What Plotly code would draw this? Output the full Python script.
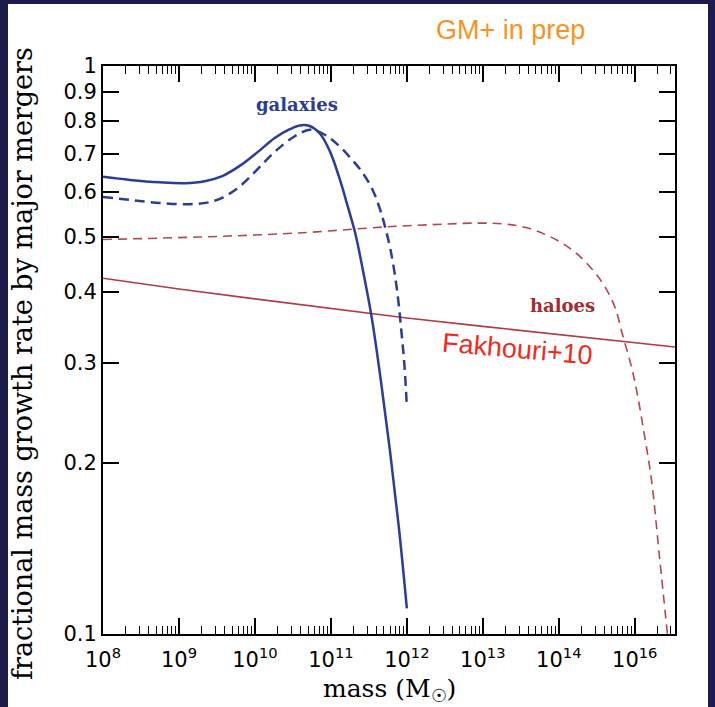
import plotly.graph_objects as go

# ---- data: fractional mass growth rate by major mergers vs. mass ----
# galaxies, solid model (log10 mass, fraction)
gal_solid_logm = [8.0, 8.355, 8.75, 9.08, 9.34, 9.57, 9.80, 10.04, 10.26, 10.46, 10.59, 10.72,
                  10.86, 10.99, 11.12, 11.22, 11.32, 11.42, 11.54, 11.66, 11.78, 11.895, 12.0]
gal_solid_frac = [0.638, 0.630, 0.624, 0.622, 0.627, 0.640, 0.667, 0.706, 0.747, 0.774, 0.786, 0.784,
                  0.759, 0.706, 0.630, 0.567, 0.508, 0.438, 0.359, 0.278, 0.209, 0.154, 0.111]

# galaxies, dashed model
gal_dash_logm = [8.0, 8.355, 8.75, 9.145, 9.47, 9.74, 10.0, 10.26, 10.53, 10.72, 10.88, 11.05,
                 11.25, 11.42, 11.55, 11.64, 11.71, 11.79, 11.87, 11.93, 11.97, 12.0]
gal_dash_frac = [0.588, 0.581, 0.574, 0.571, 0.579, 0.605, 0.651, 0.706, 0.753, 0.772, 0.762, 0.735,
                 0.691, 0.648, 0.605, 0.563, 0.523, 0.471, 0.404, 0.339, 0.295, 0.251]

# haloes, dashed model
halo_logm = [8.0, 9.28, 10.55, 11.74, 12.53, 12.96, 13.29, 13.58, 13.84, 14.04, 14.24, 14.45,
             14.61, 14.74, 14.84, 14.95, 15.03, 15.13, 15.22, 15.33, 15.43]
halo_frac = [0.495, 0.500, 0.508, 0.521, 0.527, 0.529, 0.527, 0.519, 0.504, 0.488, 0.467, 0.437,
             0.408, 0.376, 0.336, 0.298, 0.266, 0.223, 0.187, 0.135, 0.100]

# Fakhouri+10 halo relation
fak_logm = [8.0, 9.0, 10.0, 11.0, 12.0, 13.0, 14.0, 15.0, 15.53]
fak_frac = [0.423, 0.405, 0.389, 0.374, 0.360, 0.348, 0.337, 0.326, 0.320]

# axis ticks
x_tick_exp = [8, 9, 10, 11, 12, 13, 14, 15]
x_tick_text = ["10<sup>8</sup>", "10<sup>9</sup>", "10<sup>10</sup>", "10<sup>11</sup>",
               "10<sup>12</sup>", "10<sup>13</sup>", "10<sup>14</sup>", "10<sup>16</sup>"]
y_tick_vals = [0.1, 0.2, 0.3, 0.4, 0.5, 0.6, 0.7, 0.8, 0.9, 1.0]
y_tick_text = ["0.1", "0.2", "0.3", "0.4", "0.5", "0.6", "0.7", "0.8", "0.9", "1"]

BLUE = "#2c3d96"
HALO_RED = "#b5464f"
FAK_RED = "#b43a45"
NAVY = "#1c1c4c"

W, H = 715, 707
L, R, T, B = 103, 40, 66, 73
PW, PH = W - L - R, H - T - B


def px_x(x):
    return (x - L) / PW


def px_y(y):
    return (H - B - y) / PH


def mass(logm):
    return [10 ** v for v in logm]


fig = go.Figure()
fig.add_trace(go.Scatter(x=mass(fak_logm), y=fak_frac, mode="lines",
                         line=dict(color=FAK_RED, width=1.6)))
fig.add_trace(go.Scatter(x=mass(halo_logm), y=halo_frac, mode="lines",
                         line=dict(color=HALO_RED, width=1.6, dash="9px,6px", shape="spline",
                                   smoothing=1.0)))
fig.add_trace(go.Scatter(x=mass(gal_dash_logm), y=gal_dash_frac, mode="lines",
                         line=dict(color=BLUE, width=2.5, dash="10px,6px", shape="spline",
                                   smoothing=1.0)))
fig.add_trace(go.Scatter(x=mass(gal_solid_logm), y=gal_solid_frac, mode="lines",
                         line=dict(color=BLUE, width=2.5, shape="spline", smoothing=1.0)))

axis_common = dict(
    showline=True, linecolor="black", linewidth=2, mirror="ticks",
    ticks="inside", ticklen=16, tickwidth=1.5, tickcolor="black",
    showgrid=False, zeroline=False,
    tickfont=dict(family="DejaVu Sans", size=21, color="black"),
)

fig.update_xaxes(type="log", range=[8, 15.53],
                 tickmode="array", tickvals=[10 ** e for e in x_tick_exp], ticktext=x_tick_text,
                 ticklabelstandoff=6,
                 minor=dict(ticks="inside", ticklen=8, tickwidth=1, tickcolor="black",
                            dtick="D1", showgrid=False),
                 **axis_common)
fig.update_yaxes(type="log", range=[-1, 0],
                 tickmode="array", tickvals=y_tick_vals, ticktext=y_tick_text,
                 **axis_common)

annotations = [
    dict(text="GM+ in prep", x=px_x(510), y=px_y(30),
         font=dict(family="Liberation Sans", size=27, color="#f7941d")),
    dict(text="Fakhouri+10", x=px_x(517), y=px_y(349), textangle=5,
         font=dict(family="Liberation Sans", size=27, color="#f02a1c")),
    dict(text="<b>haloes</b>", x=px_x(562), y=px_y(305),
         font=dict(family="DejaVu Serif", size=18, color="#a32c30")),
    dict(text="<b>galaxies</b>", x=px_x(297), y=px_y(105),
         font=dict(family="DejaVu Serif", size=18, color=BLUE)),
    dict(text="mass (M<sub>☉</sub>)", x=0.5, y=px_y(690),
         font=dict(family="DejaVu Serif", size=25, color="black")),
    dict(text="fractional mass growth rate by major mergers", x=px_x(22), y=px_y(364),
         textangle=-90,
         font=dict(family="DejaVu Serif", size=27, color="black")),
]
for a in annotations:
    a.update(xref="paper", yref="paper", showarrow=False, xanchor="center", yanchor="middle")

fig.update_layout(
    width=W, height=H,
    margin=dict(l=L, r=R, t=T, b=B, pad=0),
    paper_bgcolor=NAVY, plot_bgcolor="white",
    showlegend=False,
    annotations=annotations,
    shapes=[dict(type="rect", xref="paper", yref="paper", layer="below",
                 x0=px_x(8), x1=px_x(708), y0=px_y(720), y1=px_y(4),
                 fillcolor="white", line=dict(width=0))],
)

fig.write_html("out.html")
